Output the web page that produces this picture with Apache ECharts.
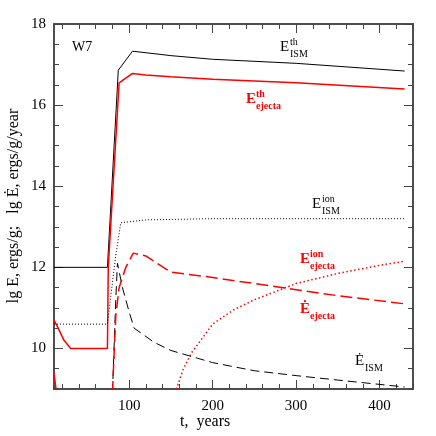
<!DOCTYPE html>
<html><head><meta charset="utf-8">
<script src="https://cdn.jsdelivr.net/npm/echarts@6/dist/echarts.min.js"></script>
<style>html,body{margin:0;background:#fff}#c{width:436px;height:436px}</style>
</head><body><div id="c"></div>
<script>
// t, years / lg E values
const thIsm = [[10,12],[74,12],[87,16.86],[104,17.33],[150,17.22],[200,17.13],[300,17.03],[430,16.84]]
const thEj = [[10,10.7],[15,10.5],[22,10.2],[30,10],[74,10],[75,12],[88,16.55],[104,16.78],[120,16.74],[150,16.7],[200,16.64],[300,16.55],[430,16.4]]
const thEjStart = [[10,9.4],[13,8.9]]
const ionIsm = [[10,10.6],[74,10.6],[84,12.3],[90,13.1],[120,13.17],[200,13.2],[430,13.2]]
const dotIsm = [[80,8.9],[84,11.2],[86,12.1],[92,11.5],[100,10.9],[106,10.5],[130,10.15],[150,9.95],[200,9.65],[250,9.45],[300,9.33],[350,9.22],[430,9.05]]
const dotEj = [[80,8.9],[84,10.8],[88,11.5],[96,12],[105,12.35],[120,12.28],[150,11.88],[200,11.75],[250,11.6],[300,11.45],[350,11.3],[430,11.1]]
const ionEj = [[155,8.9],[165,9.5],[175,9.9],[200,10.6],[225,10.95],[250,11.2],[300,11.6],[350,11.85],[400,12.05],[430,12.15]]
const xMajor = [100, 200, 300, 400]
const xMinor = [20,40,60,80,120,140,160,180,220,240,260,280,320,340,360,380,420,440]
const yMajor = [10, 12, 14, 16, 18]
const yMinor = [9,9.5,10.5,11,11.5,12.5,13,13.5,14.5,15,15.5,16.5,17,17.5]

const font = 'Liberation Serif'
const axLine = { lineStyle: { color: '#444', width: 1.5 } }
function xAx(pos, ticks, len, labels) {
  return { type: 'value', min: 10, max: 440, position: pos, axisLine: axLine, splitLine: { show: false },
    axisTick: { inside: true, length: len, customValues: ticks, lineStyle: { color: '#444' } },
    axisLabel: labels ? { customValues: ticks, color: '#000', fontFamily: font, fontSize: 15, margin: 10 } : { show: false } }
}
function yAx(pos, ticks, len, labels) {
  return { type: 'value', min: 9, max: 18, position: pos, axisLine: axLine, splitLine: { show: false },
    axisTick: { inside: true, length: len, customValues: ticks, lineStyle: { color: '#444' } },
    axisLabel: labels ? { customValues: ticks, color: '#000', fontFamily: font, fontSize: 15, margin: 8 } : { show: false } }
}
function line(data, color, type, width) {
  return { type: 'line', data, showSymbol: false, silent: true, clip: true,
    lineStyle: { color, type, width } }
}
function txt(x, y, text, size, color, bold) {
  return { type: 'text', left: x, top: y, style: { text, fontFamily: font, fontSize: size, fill: color, fontWeight: bold ? 'bold' : 'normal' } }
}
function lbl(x, y, main, sup, sub, color, bold) {
  const out = [txt(x, y, main, 15, color, bold), txt(x + 10, y + 9, sub, 10, color, bold)]
  if (sup) out.push(txt(x + 10, y - 3, sup, 10, color, bold))
  return out
}

const chart = echarts.init(document.getElementById('c'), null, { renderer: 'canvas' })
chart.setOption({
  animation: false,
  grid: { left: 54, right: 23, top: 24, bottom: 47 },
  xAxis: [xAx('bottom', xMajor, 9, true), xAx('bottom', xMinor, 5), xAx('top', xMajor, 9), xAx('top', xMinor, 5)],
  yAxis: [yAx('left', yMajor, 9, true), yAx('left', yMinor, 5), yAx('right', yMajor, 9), yAx('right', yMinor, 5)],
  series: [
    line(thIsm, '#000', 'solid', 1),
    line(thEj, '#f00', 'solid', 1.5),
    line(thEjStart, '#f00', 'solid', 1.5),
    line(ionIsm, '#000', [1, 2], 1),
    line(dotIsm, '#000', [9, 5], 1),
    line(dotEj, '#f00', [12, 5], 1.5),
    line(ionEj, '#f00', [1.5, 2.5], 1.5)
  ],
  graphic: [
    txt(72, 40, 'W7', 14, '#000'),
    ...lbl(280, 40, 'E', 'th', 'ISM', '#000'),
    ...lbl(246, 92, 'E', 'th', 'ejecta', '#f00', true),
    ...lbl(312, 197, 'E', 'ion', 'ISM', '#000'),
    ...lbl(300, 252, 'E', 'ion', 'ejecta', '#f00', true),
    ...lbl(300, 302, 'Ė', '', 'ejecta', '#f00', true),
    ...lbl(355, 354, 'Ė', '', 'ISM', '#000'),
    txt(180, 414, 't,  years', 16, '#000'),
    { type: 'text', x: 6, y: 206, rotation: Math.PI / 2, style: { text: 'lg E, ergs/g;   lg Ė, ergs/g/year', fontFamily: font, fontSize: 16, fill: '#000', align: 'center', verticalAlign: 'top' } }
  ]
})
</script></body></html>
